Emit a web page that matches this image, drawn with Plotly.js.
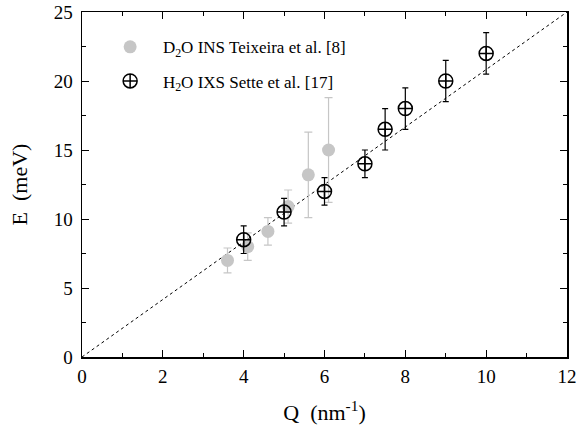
<!DOCTYPE html>
<html>
<head>
<meta charset="utf-8">
<script src="https://cdn.plot.ly/plotly-3.0.1.min.js"></script>
<style>html,body{margin:0;padding:0;background:#fff;}#chart{width:577px;height:439px;}</style>
</head>
<body>
<div id="chart"></div>
<script>
// D2O INS Teixeira et al.
const d2oQ = [3.6, 4.1, 4.6, 5.1, 5.6, 6.1];
const d2oE = [7.0, 8.0, 9.1, 10.9, 13.2, 15.0];
const d2oErr = [0.9, 1.0, 1.0, 1.2, 3.1, 3.8];
// H2O IXS Sette et al.
const h2oQ = [4, 5, 6, 7, 7.5, 8, 9, 10];
const h2oE = [8.5, 10.5, 12, 14, 16.5, 18, 20, 22];
const h2oErr = [1.0, 1.0, 1.0, 1.0, 1.5, 1.5, 1.5, 1.5];
// dashed reference line
const lineQ = [0, 12];
const lineE = [0, 25];

const serif = 'Liberation Serif';

const traces = [
  {x: lineQ, y: lineE, mode: 'lines', showlegend: false,
   line: {color: '#000', width: 1, dash: 'dot'}, hoverinfo: 'skip'},
  {x: d2oQ, y: d2oE, mode: 'markers', name: '\u00a0\u00a0\u00a0D<sub>2</sub>O INS Teixeira et al. [8]',
   legendgroup: 'a',
   marker: {symbol: 'circle', size: 13, color: '#c6c6c6'},
   error_y: {type: 'data', array: d2oErr, visible: true, color: '#c6c6c6', thickness: 1.2, width: 4}},
  {x: h2oQ, y: h2oE, mode: 'markers', name: '\u00a0\u00a0\u00a0H<sub>2</sub>O IXS Sette et al. [17]',
   legendgroup: 'b',
   marker: {symbol: 'circle-cross-open', size: 14, color: '#000', line: {width: 1.5, color: '#000'}},
   error_y: {type: 'data', array: h2oErr, visible: true, color: '#000', thickness: 1.2, width: 3}}
];

const axisCommon = {
  showline: true, linecolor: '#000', linewidth: 1.5, mirror: 'ticks',
  ticks: 'inside', ticklen: 7, tickwidth: 1, tickcolor: '#000',
  showgrid: false, zeroline: false,
  tickfont: {family: serif, size: 19, color: '#000'}
};

const layout = {
  width: 577, height: 439,
  margin: {l: 82, r: 10, t: 12, b: 82},
  paper_bgcolor: '#fff', plot_bgcolor: '#fff',
  font: {family: serif, color: '#000'},
  showlegend: true,
  legend: {x: 0.058, y: 0.95, xanchor: 'left', yanchor: 'top', bgcolor: 'rgba(0,0,0,0)',
           font: {family: serif, size: 17, color: '#000'}, traceorder: 'grouped', tracegroupgap: 9},
  xaxis: Object.assign({}, axisCommon, {
    range: [0, 12], dtick: 2, tick0: 0, ticklabelstandoff: 2,
    minor: {ticks: 'inside', dtick: 1, ticklen: 4, tickcolor: '#000'},
    title: {text: 'Q  (nm<sup>-1</sup>)', font: {family: serif, size: 22, color: '#000'}, standoff: 18}
  }),
  yaxis: Object.assign({}, axisCommon, {
    range: [0, 25], dtick: 5, tick0: 0, ticklabelstandoff: 4,
    minor: {ticks: 'inside', dtick: 2.5, ticklen: 4, tickcolor: '#000'},
    title: {text: 'E  (meV)', font: {family: serif, size: 22, color: '#000'}, standoff: 20}
  })
};

Plotly.newPlot('chart', traces, layout, {displayModeBar: false, staticPlot: true});
</script>
</body>
</html>
